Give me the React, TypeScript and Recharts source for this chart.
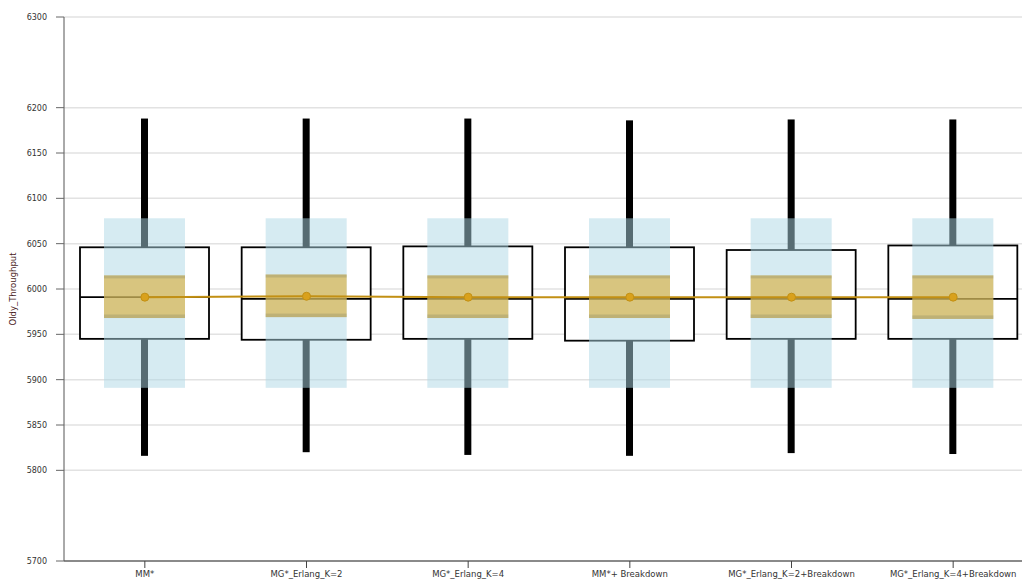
import {
  ComposedChart,
  Bar,
  Line,
  Scatter,
  XAxis,
  YAxis,
  CartesianGrid,
  Label,
} from 'recharts'

const categories = [
  'MM*',
  'MG*_Erlang_K=2',
  'MG*_Erlang_K=4',
  'MM*+ Breakdown',
  'MG*_Erlang_K=2+Breakdown',
  'MG*_Erlang_K=4+Breakdown',
]

// whisker ends
const maxValues = [6188, 6188, 6188, 6186, 6187, 6187]
const minValues = [5816, 5820, 5817, 5816, 5819, 5818]
// box (quartiles) + median
const q3Values = [6046, 6046, 6047, 6046, 6043, 6048]
const q1Values = [5945, 5944, 5945, 5943, 5945, 5945]
const medianValues = [5991, 5989, 5989, 5989, 5989, 5989]
// mean and its band
const meanValues = [5991, 5992, 5991, 5991, 5991, 5991]
const ciLowValues = [5968, 5969, 5968, 5968, 5968, 5967]
const ciHighValues = [6015, 6016, 6015, 6015, 6015, 6015]
// spread band
const spreadLowValues = [5891, 5891, 5891, 5891, 5891, 5891]
const spreadHighValues = [6078, 6078, 6078, 6078, 6078, 6078]

const yTicks = [5700, 5800, 5850, 5900, 5950, 6000, 6050, 6100, 6150, 6200, 6300]

const rows = categories.map((name, i) => ({
  name,
  whisker: [minValues[i], maxValues[i]],
  box: [q1Values[i], q3Values[i]],
  median: medianValues[i],
  mean: meanValues[i],
  ci: [ciLowValues[i], ciHighValues[i]],
  spread: [spreadLowValues[i], spreadHighValues[i]],
}))

const FONT = '"DejaVu Sans", Verdana, sans-serif'
const BOX_WIDTH = 129
const BAND_WIDTH = 81
const WHISKER_WIDTH = 7

const WhiskerShape = (p: any) => (
  <rect x={p.x} y={p.y} width={p.width} height={p.height} fill="#000" />
)

const BoxShape = (p: any) => (
  <rect
    x={p.x}
    y={p.y}
    width={p.width}
    height={p.height}
    fill="#fff"
    stroke="#000"
    strokeWidth={1.8}
  />
)

const MedianShape = (p: any) => (
  <line
    x1={p.cx - BOX_WIDTH / 2}
    x2={p.cx + BOX_WIDTH / 2}
    y1={p.cy}
    y2={p.cy}
    stroke="#000"
    strokeWidth={1.8}
  />
)

const SpreadShape = (p: any) => (
  <rect x={p.x} y={p.y} width={p.width} height={p.height} fill="#add8e6" fillOpacity={0.5} />
)

const CiShape = (p: any) => (
  <g>
    <rect x={p.x} y={p.y} width={p.width} height={p.height} fill="#daa520" fillOpacity={0.55} />
    <rect x={p.x} y={p.y} width={p.width} height={3} fill="#6e785a" fillOpacity={0.25} />
    <rect x={p.x} y={p.y + p.height - 3.5} width={p.width} height={3.5} fill="#6e785a" fillOpacity={0.25} />
  </g>
)

export default function App() {
  return (
    <div
      style={{
        position: 'absolute',
        left: 0,
        top: 0,
        width: 1022,
        height: 581,
        overflow: 'hidden',
        background: '#fff',
      }}
    >
      <ComposedChart
        width={1040}
        height={581}
        data={rows}
        margin={{ top: 17, right: 6, left: 0, bottom: 0 }}
        style={{ fontFamily: FONT }}
      >
        <CartesianGrid vertical={false} stroke="#e2e2e2" strokeWidth={1.5} />
        <XAxis
          dataKey="name"
          height={20}
          tick={{ fontSize: 8.5, fill: '#333', fontFamily: FONT }}
          tickLine={{ stroke: '#444' }}
          tickSize={7}
          tickMargin={3}
          axisLine={{ stroke: '#8a8a8a', strokeWidth: 2 }}
          interval={0}
        />
        <XAxis xAxisId="w" dataKey="name" hide />
        <XAxis xAxisId="box" dataKey="name" hide />
        <XAxis xAxisId="spread" dataKey="name" hide />
        <XAxis xAxisId="ci" dataKey="name" hide />
        <YAxis
          width={64}
          domain={[5700, 6300]}
          ticks={yTicks}
          allowDataOverflow
          interval={0}
          tick={{ fontSize: 8, fill: '#333', fontFamily: FONT }}
          tickSize={8}
          tickMargin={9}
          tickLine={{ stroke: '#666' }}
          axisLine={{ stroke: '#555' }}
        >
          <Label
            value="Oldy_Throughput"
            angle={-90}
            position="center"
            dx={-19.5}
            style={{ fontSize: 8.5, fill: '#4a1c1c', fontFamily: FONT }}
          />
        </YAxis>

        <Bar
          xAxisId="w"
          dataKey="whisker"
          barSize={WHISKER_WIDTH}
          shape={WhiskerShape}
          isAnimationActive={false}
          zIndex={300}
        />
        <Bar
          xAxisId="box"
          dataKey="box"
          barSize={BOX_WIDTH}
          shape={BoxShape}
          isAnimationActive={false}
          zIndex={301}
        />
        <Scatter
          dataKey="median"
          shape={MedianShape}
          isAnimationActive={false}
          zIndex={302}
        />
        <Bar
          xAxisId="spread"
          dataKey="spread"
          barSize={BAND_WIDTH}
          shape={SpreadShape}
          isAnimationActive={false}
          zIndex={303}
        />
        <Bar
          xAxisId="ci"
          dataKey="ci"
          barSize={BAND_WIDTH}
          shape={CiShape}
          isAnimationActive={false}
          zIndex={304}
        />
        <Line
          dataKey="mean"
          stroke="#c29014"
          strokeWidth={2}
          dot={{ r: 4, fill: '#d9a11c', stroke: '#c29014', strokeWidth: 1 }}
          activeDot={false}
          isAnimationActive={false}
          zIndex={400}
        />
      </ComposedChart>
    </div>
  )
}
